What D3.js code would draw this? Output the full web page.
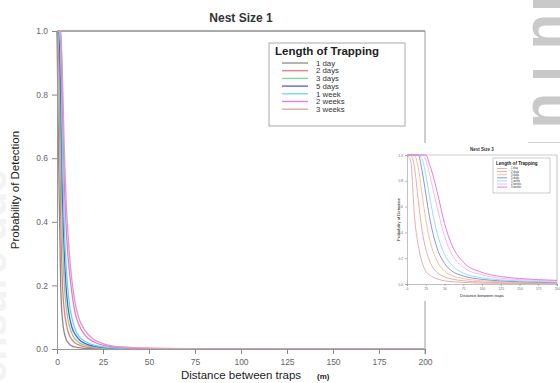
<!DOCTYPE html>
<html>
<head>
<meta charset="utf-8">
<script src="https://cdn.jsdelivr.net/npm/d3@7"></script>
<style>
  html, body { margin: 0; padding: 0; background: #fff; }
  svg { display: block; font-family: "Liberation Sans", Arial, sans-serif; }
</style>
</head>
<body>
<svg id="chart" width="560" height="383"></svg>
<script>
// ---- data ----
const seriesNames = ['1 day', '2 days', '3 days', '5 days', '1 week', '2 weeks', '3 weeks'];
const xTicks = [0, 25, 50, 75, 100, 125, 150, 175, 200];
const yTicks = [0, 0.2, 0.4, 0.6, 0.8, 1.0];

// Nest Size 1 (main chart)
const dist1 = [0, 1, 2, 3, 4, 5, 6, 8, 10, 12, 15, 20, 25, 30, 40, 50, 75, 100, 150, 200];
const day1   = [1.00, 0.55, 0.20, 0.09, 0.05, 0.030, 0.020, 0.010, 0.006, 0.004, 0.002, 0.001, 0, 0, 0, 0, 0, 0, 0, 0];
const days2  = [1.00, 0.90, 0.42, 0.20, 0.12, 0.080, 0.055, 0.030, 0.018, 0.012, 0.007, 0.004, 0.002, 0.001, 0, 0, 0, 0, 0, 0];
const days3  = [1.00, 1.00, 0.62, 0.34, 0.20, 0.130, 0.090, 0.050, 0.030, 0.020, 0.012, 0.006, 0.003, 0.002, 0.001, 0, 0, 0, 0, 0];
const days5  = [1.00, 1.00, 0.80, 0.48, 0.30, 0.190, 0.130, 0.070, 0.045, 0.030, 0.018, 0.009, 0.005, 0.003, 0.001, 0, 0, 0, 0, 0];
const week1  = [1.00, 1.00, 0.95, 0.60, 0.38, 0.260, 0.180, 0.100, 0.060, 0.040, 0.025, 0.012, 0.007, 0.004, 0.002, 0.001, 0, 0, 0, 0];
const weeks2 = [1.00, 1.00, 1.00, 0.76, 0.52, 0.380, 0.290, 0.180, 0.110, 0.075, 0.045, 0.022, 0.012, 0.007, 0.003, 0.002, 0.001, 0, 0, 0];
const weeks3 = [1.00, 1.00, 1.00, 0.85, 0.62, 0.460, 0.360, 0.220, 0.140, 0.095, 0.060, 0.030, 0.017, 0.010, 0.005, 0.003, 0.001, 0, 0, 0];

// Nest Size 3 (inset)
const dist3 = [0, 5, 10, 15, 20, 25, 30, 40, 50, 60, 75, 100, 125, 150, 175, 200];
const n3day1   = [1, 0.95, 0.52, 0.30, 0.17, 0.10, 0.07, 0.040, 0.025, 0.018, 0.012, 0.007, 0.005, 0.004, 0.003, 0.002];
const n3days2  = [1, 1, 0.90, 0.65, 0.42, 0.27, 0.18, 0.090, 0.055, 0.038, 0.025, 0.015, 0.010, 0.008, 0.006, 0.005];
const n3days3  = [1, 1, 1, 0.90, 0.70, 0.50, 0.35, 0.180, 0.100, 0.065, 0.042, 0.025, 0.017, 0.013, 0.010, 0.008];
const n3days5  = [1, 1, 1, 1, 0.88, 0.70, 0.52, 0.280, 0.160, 0.100, 0.062, 0.036, 0.024, 0.018, 0.014, 0.011];
const n3week1  = [1, 1, 1, 1, 0.97, 0.85, 0.68, 0.400, 0.230, 0.145, 0.085, 0.048, 0.032, 0.024, 0.019, 0.015];
const n3weeks2 = [1, 1, 1, 1, 1, 0.96, 0.85, 0.600, 0.370, 0.230, 0.130, 0.070, 0.045, 0.034, 0.027, 0.022];
const n3weeks3 = [1, 1, 1, 1, 1, 1, 0.93, 0.720, 0.470, 0.300, 0.170, 0.090, 0.058, 0.043, 0.034, 0.028];

const colors1 = ['#8a8a8a', '#f07a7a', '#7ad89a', '#5a5ad0', '#6ad6f0', '#f070ec', '#d8a2a6'];
const colors3 = ['#d8a8b0', '#f0a0a0', '#e8c090', '#7888e0', '#90d8f0', '#f4b4e4', '#e070d8'];

const main = [day1, days2, days3, days5, week1, weeks2, weeks3];
const inset = [n3day1, n3days2, n3days3, n3days5, n3week1, n3weeks2, n3weeks3];

const svg = d3.select('#chart');

// faint watermark bits at the edges of the scan
svg.append('text')
  .attr('transform', 'translate(533,0) rotate(90)')
  .attr('x', '-4 14 66 93')
  .attr('y', 0)
  .attr('font-size', 58).attr('font-weight', 'bold')
  .attr('fill', '#c9c9c9')
  .text('iuiu');
svg.append('line')
  .attr('x1', 528).attr('x2', 560).attr('y1', 142.5).attr('y2', 142.5)
  .attr('stroke', '#cfcfcf');
svg.append('text')
  .attr('transform', 'translate(6,383) rotate(-90)')
  .attr('font-size', 40).attr('font-weight', 'bold')
  .attr('fill', '#f3f3f3')
  .text('ensure due');

// ---- chart drawing ----
function drawChart(g, o) {
  const x = d3.scaleLinear().domain([0, 200]).range([o.left, o.right]);
  const y = d3.scaleLinear().domain([0, 1]).range([o.bottom, o.top]);

  g.append('text')
    .attr('x', (o.left + o.right) / 2).attr('y', o.titleY)
    .attr('text-anchor', 'middle')
    .attr('font-size', o.titleSize).attr('font-weight', 'bold')
    .attr('fill', '#333')
    .text(o.title);

  // frame: top dark, right light
  g.append('line')
    .attr('x1', o.left).attr('x2', o.right).attr('y1', o.top).attr('y2', o.top)
    .attr('stroke', o.topColor).attr('stroke-width', o.frameW);
  g.append('line')
    .attr('x1', o.right).attr('x2', o.right).attr('y1', o.top).attr('y2', o.bottom + o.tick)
    .attr('stroke', '#9a9a9a').attr('stroke-width', o.frameW);

  const line = d3.line()
    .x(d => x(d[0])).y(d => y(d[1]))
    .curve(d3.curveMonotoneX);

  o.series.forEach((vals, i) => {
    g.append('path')
      .datum(o.dist.map((d, j) => [d, vals[j]]))
      .attr('d', line)
      .attr('fill', 'none')
      .attr('stroke', o.colors[i])
      .attr('stroke-width', o.lineW);
  });

  const xAxis = g.append('g')
    .attr('transform', `translate(0,${o.bottom})`)
    .call(d3.axisBottom(x).tickValues(xTicks).tickSize(o.tick).tickPadding(o.xPad));
  const yAxis = g.append('g')
    .attr('transform', `translate(${o.left},0)`)
    .call(d3.axisLeft(y).tickValues(yTicks).tickSize(o.tick).tickPadding(o.yPad).tickFormat(d3.format('.1f')));
  [xAxis, yAxis].forEach(a => {
    a.select('.domain').attr('stroke', '#999').attr('stroke-width', o.frameW);
    a.selectAll('.tick line').attr('stroke', '#888').attr('stroke-width', o.frameW);
    a.selectAll('.tick text')
      .attr('fill', '#666')
      .attr('font-size', o.tickSize)
      .attr('font-family', '"Liberation Sans", Arial, sans-serif');
  });

  g.append('text')
    .attr('x', (o.left + o.right) / 2).attr('y', o.xTitleY)
    .attr('text-anchor', 'middle')
    .attr('font-size', o.axisTitleSize)
    .attr('fill', '#222')
    .text('Distance between traps');

  g.append('text')
    .attr('transform', `translate(${o.yTitleX},${(o.top + o.bottom) / 2}) rotate(-90)`)
    .attr('text-anchor', 'middle')
    .attr('font-size', o.axisTitleSize)
    .attr('fill', '#222')
    .text('Probability of Detection');

  // legend
  const lg = o.legend;
  g.append('rect')
    .attr('x', lg.x).attr('y', lg.y).attr('width', lg.w).attr('height', lg.h)
    .attr('fill', '#fff').attr('stroke', '#aaa').attr('stroke-width', o.frameW);
  g.append('text')
    .attr('x', lg.x + lg.pad).attr('y', lg.titleY)
    .attr('font-size', lg.titleSize).attr('font-weight', 'bold')
    .attr('fill', '#222')
    .text('Length of Trapping');
  seriesNames.forEach((name, i) => {
    const cy = lg.rowY + i * lg.step;
    g.append('line')
      .attr('x1', lg.lineX1).attr('x2', lg.lineX2).attr('y1', cy).attr('y2', cy)
      .attr('stroke', o.colors[i]).attr('stroke-width', o.lineW);
    g.append('text')
      .attr('x', lg.textX).attr('y', cy)
      .attr('dy', '0.35em')
      .attr('font-size', lg.textSize)
      .attr('fill', '#333')
      .text(name);
  });
  return { x, y };
}

drawChart(svg.append('g'), {
  left: 57, right: 425, top: 31, bottom: 349,
  title: 'Nest Size 1', titleY: 22, titleSize: 12,
  topColor: '#555', frameW: 1, tick: 5, xPad: 5, yPad: 4, tickSize: 8.5,
  lineW: 1.3, dist: dist1, series: main, colors: colors1,
  xTitleY: 379, yTitleX: 19, axisTitleSize: 11.5,
  legend: { x: 269, y: 43, w: 136, h: 83, pad: 6, titleY: 55, titleSize: 11.5,
            rowY: 63, step: 7.7, lineX1: 282, lineX2: 308, textX: 316, textSize: 7.8 }
});

// "(m)" unit after the x title
svg.append('text')
  .attr('x', 317).attr('y', 379)
  .attr('font-size', 8).attr('font-weight', 'bold')
  .attr('fill', '#222')
  .text('(m)');

// ---- inset: Nest Size 3 ----
svg.append('rect')
  .attr('x', 397).attr('y', 143).attr('width', 163).attr('height', 158)
  .attr('fill', '#fff');

drawChart(svg.append('g'), {
  left: 407, right: 557, top: 155, bottom: 284,
  title: 'Nest Size 3', titleY: 151, titleSize: 4.5,
  topColor: '#aaa', frameW: 0.6, tick: 2, xPad: 2, yPad: 2, tickSize: 3.2,
  lineW: 0.9, dist: dist3, series: inset, colors: colors3,
  xTitleY: 297, yTitleX: 400, axisTitleSize: 4.2,
  legend: { x: 493, y: 158, w: 57, h: 35, pad: 3, titleY: 164.5, titleSize: 4.6,
            rowY: 168.5, step: 3.1, lineX1: 497, lineX2: 507, textX: 511, textSize: 2.8 }
});
</script>
</body>
</html>
